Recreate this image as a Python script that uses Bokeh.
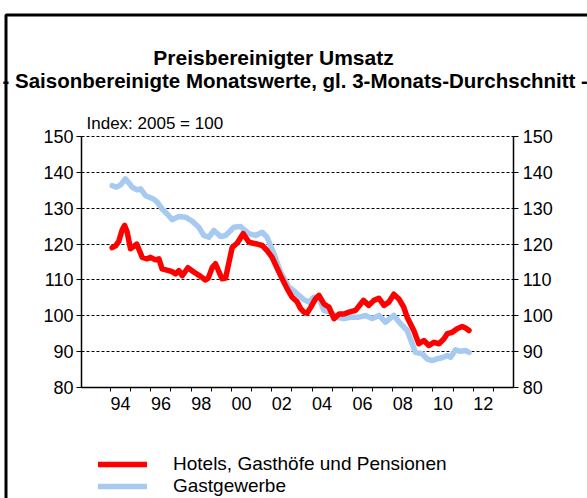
from bokeh.plotting import figure
from bokeh.models import (Range1d, LinearAxis, FixedTicker, Legend, Grid,
                          LegendItem, Label, BoxAnnotation)
from bokeh.embed import file_html
from bokeh.resources import INLINE

# ---- data ----
hotels_x = [1994.08, 1994.25, 1994.41, 1994.58, 1994.70, 1994.82, 1994.99, 1995.15, 1995.30, 1995.45,
            1995.57, 1995.82, 1995.99, 1996.23, 1996.40, 1996.56, 1996.89, 1997.05, 1997.23, 1997.39,
            1997.56, 1997.84, 1998.13, 1998.47, 1998.71, 1998.85, 1999.05, 1999.21, 1999.40, 1999.54,
            1999.71, 1999.90, 2000.04, 2000.29, 2000.58, 2000.87, 2001.20, 2001.53, 2001.77, 2002.02,
            2002.25, 2002.44, 2002.77, 2003.01, 2003.25, 2003.43, 2003.60, 2003.75, 2003.92, 2004.17,
            2004.34, 2004.59, 2004.84, 2005.09, 2005.34, 2005.58, 2005.83, 2006.16, 2006.41, 2006.55,
            2006.82, 2007.07, 2007.32, 2007.57, 2007.81, 2008.06, 2008.31, 2008.55, 2008.72, 2009.05,
            2009.30, 2009.55, 2009.80, 2010.05, 2010.30, 2010.55, 2010.71, 2010.96, 2011.20, 2011.45,
            2011.62, 2011.79]
hotels_y = [119.0, 119.5, 120.8, 124.0, 125.2, 123.5, 118.7, 119.3, 120.0, 118.0,
            116.3, 115.9, 116.3, 115.6, 115.9, 113.1, 112.6, 112.3, 111.7, 112.6,
            111.2, 113.4, 112.2, 111.0, 110.0, 110.5, 113.5, 114.5, 112.0, 110.3,
            110.5, 115.5, 119.1, 120.3, 122.9, 120.5, 120.1, 119.6, 118.2, 116.3,
            113.5, 111.2, 107.5, 105.2, 104.0, 102.0, 101.0, 100.7, 102.2, 104.7,
            105.7, 103.3, 102.4, 99.2, 100.5, 100.5, 101.0, 101.5, 103.3, 104.3,
            102.9, 104.3, 104.9, 102.9, 103.8, 106.0, 104.7, 102.4, 99.6, 95.9,
            92.2, 93.1, 91.7, 92.6, 92.2, 93.6, 95.0, 95.4, 96.4, 97.0,
            96.6, 95.9]

gast_x = [1994.08, 1994.30, 1994.50, 1994.74, 1995.07, 1995.32, 1995.49, 1995.74, 1995.99, 1996.15,
          1996.32, 1996.56, 1996.81, 1997.06, 1997.39, 1997.72, 1998.05, 1998.38, 1998.63, 1998.88,
          1999.13, 1999.46, 1999.71, 2000.12, 2000.45, 2000.87, 2001.20, 2001.53, 2001.77, 2002.11,
          2002.44, 2002.85, 2003.10, 2003.26, 2003.60, 2003.84, 2004.09, 2004.34, 2004.59, 2004.92,
          2005.25, 2005.58, 2005.91, 2006.33, 2006.66, 2006.99, 2007.32, 2007.65, 2008.06, 2008.39,
          2008.72, 2008.97, 2009.13, 2009.46, 2009.71, 2009.96, 2010.21, 2010.46, 2010.71, 2010.88,
          2011.12, 2011.37, 2011.62, 2011.79]
gast_y = [136.3, 135.9, 136.5, 138.2, 135.9, 135.1, 135.4, 133.5, 132.9, 132.5,
          131.7, 129.8, 128.4, 126.8, 127.7, 127.5, 126.4, 124.7, 122.4, 121.9,
          123.8, 122.1, 122.4, 124.7, 124.9, 122.9, 122.4, 123.3, 121.9, 117.3,
          112.2, 108.0, 107.0, 106.1, 104.5, 103.8, 105.2, 105.0, 101.5, 101.0,
          99.6, 99.2, 99.6, 99.6, 100.1, 99.2, 100.1, 98.2, 100.1, 97.8,
          95.9, 92.2, 89.8, 89.4, 88.0, 87.5, 88.0, 88.3, 88.9, 88.4,
          90.5, 90.1, 90.3, 89.8]

y_ticks = [80, 90, 100, 110, 120, 130, 140, 150]
year_ticks = [1994, 1995, 1996, 1997, 1998, 1999, 2000, 2001, 2002, 2003,
              2004, 2005, 2006, 2007, 2008, 2009, 2010, 2011, 2012, 2013]
label_years = [1994, 1996, 1998, 2000, 2002, 2004, 2006, 2008, 2010, 2012]
year_labels = ["94", "96", "98", "00", "02", "04", "06", "08", "10", "12"]

series_names = ["Hotels, Gasthöfe und Pensionen", "Gastgewerbe"]
title_text = "Preisbereinigter Umsatz"
subtitle_text = "- Saisonbereinigte Monatswerte, gl. 3-Monats-Durchschnitt -"
index_text = "Index: 2005 = 100"

# plotted area and axis extents
X_LO, X_HI = 1992.56, 2014.01
Y_LO, Y_HI = 80, 150

FONT = "Liberation Sans"
RED = "#FF0000"
BLUE = "#A6CAF0"
W, H = 587, 498

# the frame covers the whole canvas; the axes sit at fixed positions inside it
p = figure(width=W, height=H, output_backend="svg", toolbar_location=None,
           x_range=Range1d(1988.54, 2017.67), y_range=Range1d(49.04, 187.93),
           min_border=0, x_axis_location=None, y_axis_location=None)
p.outline_line_color = None
p.background_fill_color = "white"
p.border_fill_color = "white"
p.grid.visible = False

label_pos = [y + 0.5 for y in label_years]
xa = LinearAxis(fixed_location=Y_LO, bounds=(X_LO, X_HI),
                ticker=FixedTicker(ticks=label_pos, minor_ticks=year_ticks))
xa.major_label_overrides = {pos: lab for pos, lab in zip(label_pos, year_labels)}
xa.major_tick_in = 0
xa.major_tick_out = 0
xa.minor_tick_in = 0
xa.minor_tick_out = 4
xa.minor_tick_line_color = "black"
xa.axis_line_color = "black"
xa.axis_line_width = 1.5
xa.major_label_standoff = 6
xa.major_label_text_font = FONT
xa.major_label_text_font_size = "18px"
xa.major_label_text_color = "black"
p.add_layout(xa, "below")

def y_axis(loc, standoff):
    ax = LinearAxis(fixed_location=loc, bounds=(Y_LO, Y_HI),
                    ticker=FixedTicker(ticks=y_ticks))
    ax.major_tick_in = 0
    ax.major_tick_out = 5
    ax.minor_tick_out = 0
    ax.minor_tick_in = 0
    ax.major_tick_line_color = "black"
    ax.axis_line_color = "black"
    ax.axis_line_width = 1.5
    ax.major_label_standoff = standoff
    ax.major_label_text_font = FONT
    ax.major_label_text_font_size = "18px"
    ax.major_label_text_color = "black"
    return ax

p.add_layout(y_axis(X_LO, 3), "left")
p.add_layout(y_axis(X_HI, 4), "right")

grid = Grid(dimension=1, ticker=FixedTicker(ticks=y_ticks),
            bounds=(Y_LO, Y_HI), cross_bounds=(X_LO, X_HI),
            grid_line_color="black", grid_line_dash="3 2", grid_line_width=1)
p.add_layout(grid)

r_blue = p.line(gast_x, gast_y, line_color=BLUE, line_width=5.5,
                line_cap="round", line_join="round")
r_red = p.line(hotels_x, hotels_y, line_color=RED, line_width=5.5,
               line_cap="round", line_join="round")

legend = Legend(items=[LegendItem(label=series_names[0], renderers=[r_red]),
                       LegendItem(label=series_names[1], renderers=[r_blue])],
                location=(98, 1), orientation="vertical",
                glyph_width=49, glyph_height=20, label_height=20,
                label_standoff=26, spacing=0, padding=0, margin=0,
                border_line_color=None, background_fill_alpha=0,
                label_text_font=FONT, label_text_font_size="19px",
                label_text_color="black")
p.add_layout(legend)

# texts (screen units: x from left, y from bottom of the canvas)
p.add_layout(Label(x=273, y=H - 57, x_units="screen", y_units="screen",
                   text=title_text, text_font=FONT, text_font_size="21px",
                   text_font_style="bold", text_align="center",
                   text_baseline="alphabetic", text_color="black"))
p.add_layout(Label(x=2, y=H - 80, x_units="screen", y_units="screen",
                   text=subtitle_text, text_font=FONT, text_font_size="20.5px",
                   text_font_style="bold", text_align="left",
                   text_baseline="alphabetic", text_color="black"))
p.add_layout(Label(x=86, y=H - 123, x_units="screen", y_units="screen",
                   text=index_text, text_font=FONT, text_font_size="17px",
                   text_align="left", text_baseline="alphabetic",
                   text_color="black"))

# outer frame (only its left and top edges fall inside the picture)
p.add_layout(BoxAnnotation(left=5.5, right=W + 50, top=H - 14.5, bottom=-50,
                           left_units="screen", right_units="screen",
                           top_units="screen", bottom_units="screen",
                           fill_alpha=0, line_color="black", line_alpha=1,
                           line_width=3))

open("out.html", "w").write(file_html(p, INLINE))
